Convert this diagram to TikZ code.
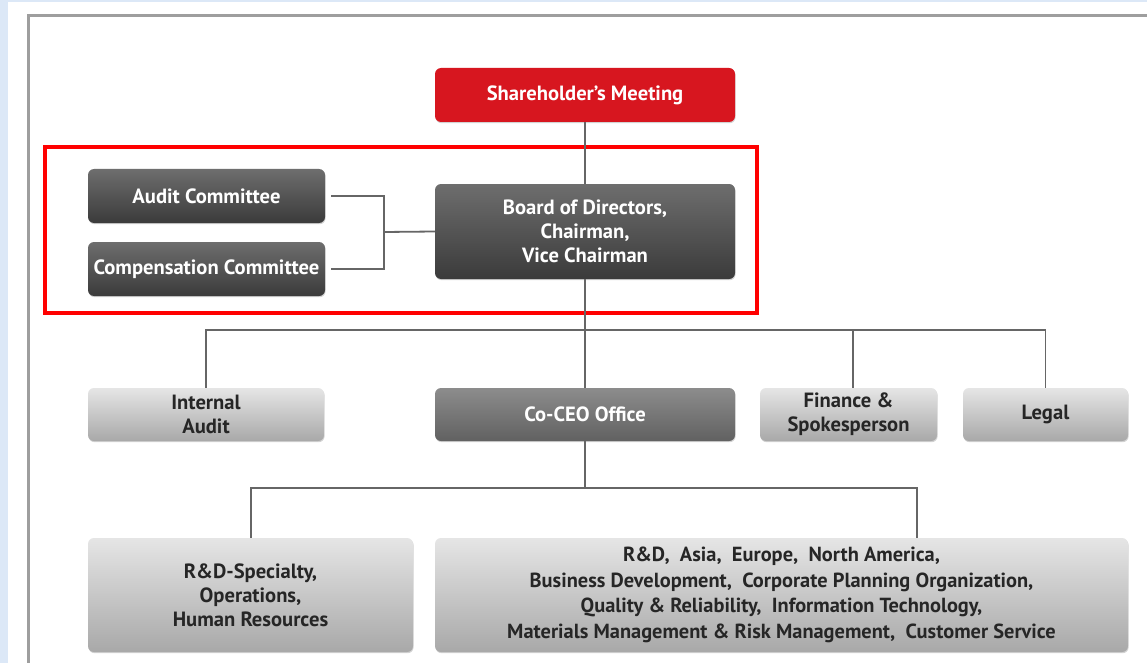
\documentclass[tikz,border=0pt]{standalone}
\usepackage{fontspec}
\setmainfont{PT Sans}
\usetikzlibrary{shadows}
\definecolor{bgblue}{HTML}{DCE8F7}
\definecolor{shred}{HTML}{D7161F}
\definecolor{lnc}{HTML}{666666}
\begin{document}
\begin{tikzpicture}[x=1pt,y=-1pt,
  box/.style={rectangle,rounded corners=6pt,inner sep=0pt,align=center,font=\bfseries\fontsize{20.6}{24}\selectfont,
     drop shadow={shadow xshift=0.6pt,shadow yshift=-1.2pt,opacity=0.35}},
  darkbox/.style={box,top color=black!57,bottom color=black!77,text=white},
  midbox/.style={box,top color=black!45,bottom color=black!62,text=white},
  lightbox/.style={box,top color=black!10,bottom color=black!34,text=black!85},
  redbox/.style={box,fill=shred,text=white},
  conn/.style={draw=lnc,line width=1.8pt}]
\useasboundingbox (0,0) rectangle (1147,663);
\fill[bgblue] (0,0) rectangle (1147,663);
\fill[white] (8,2) rectangle (1147,663);
\draw[black!38,line width=3pt] (28,663) -- (28,16) -- (1147,16);
% nodes
\node[redbox,minimum width=300pt,minimum height=54pt] (sh) at (585,95) {Shareholder’s Meeting};
\node[darkbox,minimum width=300pt,minimum height=95pt] (bd) at (585,231.5) {Board of Directors,\\Chairman,\\Vice Chairman};
\node[darkbox,minimum width=237pt,minimum height=54pt] (ac) at (206.5,196) {Audit Committee};
\node[darkbox,minimum width=237pt,minimum height=54pt] (cc) at (206.5,269) {Compensation Committee};
\node[lightbox,minimum width=236pt,minimum height=53pt] (ia) at (206,414.5) {Internal\\Audit};
\node[midbox,minimum width=300pt,minimum height=53pt] (ceo) at (585,414.5) {Co-CEO Office};
\node[lightbox,minimum width=177pt,minimum height=53pt] (fin) at (848.5,414.5) {Finance \&\\Spokesperson};
\node[lightbox,minimum width=165pt,minimum height=53pt] (leg) at (1045.5,414.5) {Legal};
\node[lightbox,minimum width=325pt,minimum height=114pt] (rds) at (250.5,595) {R\&D-Specialty,\\Operations,\\Human Resources};
\node[lightbox,minimum width=693pt,minimum height=114pt,font=\bfseries\fontsize{20.4}{25.7}\selectfont] (big) at (781.5,595) {R\&D,\ \ Asia,\ \ Europe,\ \ North America,\\Business Development,\ \ Corporate Planning Organization,\\Quality \& Reliability,\ \ Information Technology,\\Materials Management \& Risk Management,\ \ Customer Service};
% highlight
\draw[red,line width=4pt] (45,147) rectangle (757,313);
% connectors
\coordinate (j1) at (585,330);
\coordinate (j2) at (585,488);
\coordinate (cm) at (384,232);
\draw[conn] (sh.south) -- (bd.north);
\draw[conn] (bd.south) -- (ceo.north);
\draw[conn] (ac.east) ++(6,0) -| (cm) |- ([xshift=6pt]cc.east);
\draw[conn] (cm) -- (bd.west);
\draw[conn] (ia.north) |- (j1) -| ([xshift=4.5pt]fin.north);
\draw[conn] (j1) -| (leg.north);
\draw[conn] (ceo.south) -- (j2);
\draw[conn] ([xshift=0.5pt]rds.north) |- (j2) -| ([xshift=135.5pt]big.north);
\end{tikzpicture}
\end{document}
